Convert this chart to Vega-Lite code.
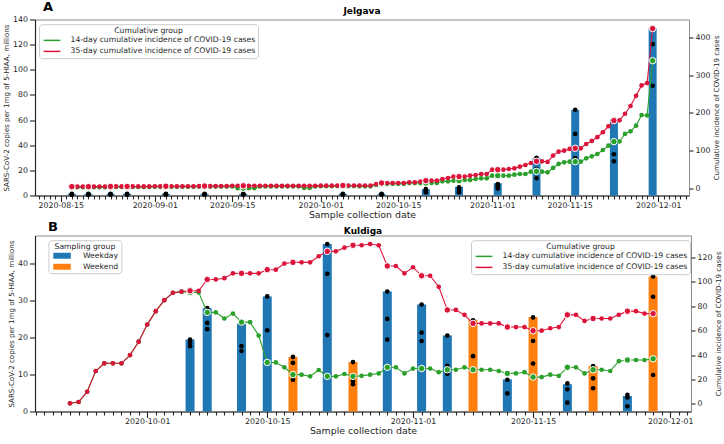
{
  "$schema": "https://vega.github.io/schema/vega-lite/v6.json",
  "padding": {"left": 2, "top": 0.5, "right": 2, "bottom": 2},
  "config": {
    "font": "DejaVu Sans",
    "view": {"stroke": "#8c8c8c", "strokeWidth": 1},
    "axis": {"grid": false, "labelFontSize": 7.8, "labelColor": "#262626", "titleFontSize": 9.4, "titleFontWeight": "normal", "titleColor": "#262626", "tickColor": "#262626", "domainColor": "#262626", "tickWidth": 1.1, "domainWidth": 1.2, "labelPadding": 2},
    "legend": {"fillColor": "rgba(255,255,255,0.85)", "strokeColor": "#cccccc", "cornerRadius": 3, "padding": 2.5, "titleFontSize": 7.7, "labelFontSize": 7.7, "titleFontWeight": "normal", "titleColor": "#262626", "labelColor": "#262626", "titleAnchor": "middle", "titlePadding": 1.5, "rowPadding": 2, "labelLimit": 0},
    "title": {"font": "DejaVu Sans", "color": "#000000"}
  },
  "datasets": {
    "barsA": [
      {"date": "2020-08-17", "value": 1.3}, {"date": "2020-08-20", "value": 1.3}, {"date": "2020-08-24", "value": 1.3}, {"date": "2020-08-27", "value": 1.3},
      {"date": "2020-09-03", "value": 1.3}, {"date": "2020-09-10", "value": 1.3}, {"date": "2020-09-17", "value": 1.3}, {"date": "2020-10-05", "value": 1.3},
      {"date": "2020-10-12", "value": 1.3}, {"date": "2020-10-20", "value": 5.0}, {"date": "2020-10-26", "value": 6.9}, {"date": "2020-11-02", "value": 9.8},
      {"date": "2020-11-09", "value": 29.5}, {"date": "2020-11-16", "value": 68.0}, {"date": "2020-11-23", "value": 60.7}, {"date": "2020-11-30", "value": 132.9}
    ],
    "dotsA": [
      {"date": "2020-08-17", "value": 1.3}, {"date": "2020-08-17", "value": 0.9}, {"date": "2020-08-17", "value": 0.6},
      {"date": "2020-08-20", "value": 1.3}, {"date": "2020-08-20", "value": 0.9}, {"date": "2020-08-20", "value": 0.6},
      {"date": "2020-08-24", "value": 1.3}, {"date": "2020-08-24", "value": 0.9}, {"date": "2020-08-24", "value": 0.6},
      {"date": "2020-08-27", "value": 1.3}, {"date": "2020-08-27", "value": 0.9}, {"date": "2020-08-27", "value": 0.6},
      {"date": "2020-09-03", "value": 1.3}, {"date": "2020-09-03", "value": 0.9}, {"date": "2020-09-03", "value": 0.6},
      {"date": "2020-09-10", "value": 1.3}, {"date": "2020-09-10", "value": 0.9}, {"date": "2020-09-10", "value": 0.6},
      {"date": "2020-09-17", "value": 1.3}, {"date": "2020-09-17", "value": 0.9}, {"date": "2020-09-17", "value": 0.6},
      {"date": "2020-10-05", "value": 1.3}, {"date": "2020-10-05", "value": 0.9}, {"date": "2020-10-05", "value": 0.6},
      {"date": "2020-10-12", "value": 1.3}, {"date": "2020-10-12", "value": 0.9}, {"date": "2020-10-12", "value": 0.6},
      {"date": "2020-10-20", "value": 5.0}, {"date": "2020-10-20", "value": 3.7}, {"date": "2020-10-20", "value": 2.5},
      {"date": "2020-10-26", "value": 6.4}, {"date": "2020-10-26", "value": 4.6}, {"date": "2020-10-26", "value": 2.5},
      {"date": "2020-11-02", "value": 9.0}, {"date": "2020-11-02", "value": 7.2}, {"date": "2020-11-02", "value": 5.5},
      {"date": "2020-11-09", "value": 30.0}, {"date": "2020-11-09", "value": 21.0}, {"date": "2020-11-09", "value": 13.7},
      {"date": "2020-11-16", "value": 68.2}, {"date": "2020-11-16", "value": 49.0}, {"date": "2020-11-16", "value": 29.7},
      {"date": "2020-11-23", "value": 60.5}, {"date": "2020-11-23", "value": 32.8}, {"date": "2020-11-23", "value": 27.2},
      {"date": "2020-11-30", "value": 133.0}, {"date": "2020-11-30", "value": 120.4}, {"date": "2020-11-30", "value": 87.3}
    ],
    "linesA": [
      {"date": "2020-08-17", "14-day": 3, "35-day": 4.5}, {"date": "2020-08-18", "14-day": 3, "35-day": 4.5}, {"date": "2020-08-19", "14-day": 3, "35-day": 4.5},
      {"date": "2020-08-20", "14-day": 3, "35-day": 4.5}, {"date": "2020-08-21", "14-day": 3, "35-day": 4.5}, {"date": "2020-08-22", "14-day": 3, "35-day": 4.5},
      {"date": "2020-08-23", "14-day": 3, "35-day": 4.5}, {"date": "2020-08-24", "14-day": 3.5, "35-day": 5}, {"date": "2020-08-25", "14-day": 3.5, "35-day": 5},
      {"date": "2020-08-26", "14-day": 3.5, "35-day": 5}, {"date": "2020-08-27", "14-day": 3.5, "35-day": 5}, {"date": "2020-08-28", "14-day": 3.5, "35-day": 5},
      {"date": "2020-08-29", "14-day": 3.5, "35-day": 5}, {"date": "2020-08-30", "14-day": 3.5, "35-day": 5}, {"date": "2020-08-31", "14-day": 3.5, "35-day": 5},
      {"date": "2020-09-01", "14-day": 4, "35-day": 5.5}, {"date": "2020-09-02", "14-day": 4, "35-day": 5.5}, {"date": "2020-09-03", "14-day": 4, "35-day": 5.5},
      {"date": "2020-09-04", "14-day": 4, "35-day": 5.5}, {"date": "2020-09-05", "14-day": 4, "35-day": 5.5}, {"date": "2020-09-06", "14-day": 4, "35-day": 5.5},
      {"date": "2020-09-07", "14-day": 4, "35-day": 5.5}, {"date": "2020-09-08", "14-day": 4, "35-day": 5.5}, {"date": "2020-09-09", "14-day": 4.5, "35-day": 6},
      {"date": "2020-09-10", "14-day": 4.5, "35-day": 6}, {"date": "2020-09-11", "14-day": 4.5, "35-day": 6}, {"date": "2020-09-12", "14-day": 4.5, "35-day": 6},
      {"date": "2020-09-13", "14-day": 4.5, "35-day": 6}, {"date": "2020-09-14", "14-day": 4.5, "35-day": 6}, {"date": "2020-09-15", "14-day": 5, "35-day": 6.8},
      {"date": "2020-09-16", "14-day": 0.5, "35-day": 6.8}, {"date": "2020-09-17", "14-day": 0.5, "35-day": 6.8}, {"date": "2020-09-18", "14-day": 0.5, "35-day": 6.8},
      {"date": "2020-09-19", "14-day": 0.5, "35-day": 6.8}, {"date": "2020-09-20", "14-day": 5, "35-day": 6.8}, {"date": "2020-09-21", "14-day": 5, "35-day": 6.8},
      {"date": "2020-09-22", "14-day": 5, "35-day": 6.8}, {"date": "2020-09-23", "14-day": 5, "35-day": 6.5}, {"date": "2020-09-24", "14-day": 5, "35-day": 6.5},
      {"date": "2020-09-25", "14-day": 5, "35-day": 6.5}, {"date": "2020-09-26", "14-day": 5, "35-day": 6.5}, {"date": "2020-09-27", "14-day": 5, "35-day": 6.5},
      {"date": "2020-09-28", "14-day": 1, "35-day": 6.5}, {"date": "2020-09-29", "14-day": 1, "35-day": 6.5}, {"date": "2020-09-30", "14-day": 5, "35-day": 6.5},
      {"date": "2020-10-01", "14-day": 5.5, "35-day": 7}, {"date": "2020-10-02", "14-day": 5.5, "35-day": 7}, {"date": "2020-10-03", "14-day": 5.5, "35-day": 7},
      {"date": "2020-10-04", "14-day": 6, "35-day": 7.5}, {"date": "2020-10-05", "14-day": 6, "35-day": 7.5}, {"date": "2020-10-06", "14-day": 6, "35-day": 7.5},
      {"date": "2020-10-07", "14-day": 6, "35-day": 7.5}, {"date": "2020-10-08", "14-day": 5.3, "35-day": 7.5}, {"date": "2020-10-09", "14-day": 5.3, "35-day": 7.5},
      {"date": "2020-10-10", "14-day": 5.3, "35-day": 7.5}, {"date": "2020-10-11", "14-day": 9, "35-day": 11.5}, {"date": "2020-10-12", "14-day": 12, "35-day": 14.1},
      {"date": "2020-10-13", "14-day": 12, "35-day": 14.1}, {"date": "2020-10-14", "14-day": 12, "35-day": 14.1}, {"date": "2020-10-15", "14-day": 12, "35-day": 14.1},
      {"date": "2020-10-16", "14-day": 12, "35-day": 14.1}, {"date": "2020-10-17", "14-day": 14, "35-day": 15.9}, {"date": "2020-10-18", "14-day": 14, "35-day": 15.9},
      {"date": "2020-10-19", "14-day": 14, "35-day": 17.7}, {"date": "2020-10-20", "14-day": 14.1, "35-day": 20.3}, {"date": "2020-10-21", "14-day": 14.1, "35-day": 20.3},
      {"date": "2020-10-22", "14-day": 14.1, "35-day": 20.3}, {"date": "2020-10-23", "14-day": 18.5, "35-day": 24.7}, {"date": "2020-10-24", "14-day": 18.5, "35-day": 27.4},
      {"date": "2020-10-25", "14-day": 20.3, "35-day": 31}, {"date": "2020-10-26", "14-day": 20.3, "35-day": 31}, {"date": "2020-10-27", "14-day": 22.1, "35-day": 31},
      {"date": "2020-10-28", "14-day": 22.1, "35-day": 33.6}, {"date": "2020-10-29", "14-day": 24.7, "35-day": 35.3}, {"date": "2020-10-30", "14-day": 26.5, "35-day": 38},
      {"date": "2020-10-31", "14-day": 26.5, "35-day": 38}, {"date": "2020-11-01", "14-day": 33.6, "35-day": 49.4}, {"date": "2020-11-02", "14-day": 33.6, "35-day": 49.4},
      {"date": "2020-11-03", "14-day": 33.6, "35-day": 49.4}, {"date": "2020-11-04", "14-day": 33.6, "35-day": 51.2}, {"date": "2020-11-05", "14-day": 36.2, "35-day": 53},
      {"date": "2020-11-06", "14-day": 38, "35-day": 57.4}, {"date": "2020-11-07", "14-day": 38, "35-day": 61.8}, {"date": "2020-11-08", "14-day": 44.1, "35-day": 67},
      {"date": "2020-11-09", "14-day": 45, "35-day": 71.5}, {"date": "2020-11-10", "14-day": 44.1, "35-day": 71.5}, {"date": "2020-11-11", "14-day": 42.4, "35-day": 70},
      {"date": "2020-11-12", "14-day": 53.9, "35-day": 86.6}, {"date": "2020-11-13", "14-day": 64.5, "35-day": 97.1}, {"date": "2020-11-14", "14-day": 68.9, "35-day": 99.8},
      {"date": "2020-11-15", "14-day": 70.6, "35-day": 104.2}, {"date": "2020-11-16", "14-day": 70.6, "35-day": 106}, {"date": "2020-11-17", "14-day": 70.6, "35-day": 106},
      {"date": "2020-11-18", "14-day": 79.5, "35-day": 117.4}, {"date": "2020-11-19", "14-day": 84.8, "35-day": 125.4}, {"date": "2020-11-20", "14-day": 90.9, "35-day": 135.5},
      {"date": "2020-11-21", "14-day": 101.5, "35-day": 148.5}, {"date": "2020-11-22", "14-day": 113, "35-day": 164.3}, {"date": "2020-11-23", "14-day": 123.6, "35-day": 179.3},
      {"date": "2020-11-24", "14-day": 124, "35-day": 180}, {"date": "2020-11-25", "14-day": 144, "35-day": 197.5}, {"date": "2020-11-26", "14-day": 151, "35-day": 218},
      {"date": "2020-11-27", "14-day": 166, "35-day": 245}, {"date": "2020-11-28", "14-day": 194, "35-day": 272.5}, {"date": "2020-11-29", "14-day": 193, "35-day": 278.7},
      {"date": "2020-11-30", "14-day": 338, "35-day": 423}
    ],
    "barsB": [
      {"date": "2020-10-06", "group": "Weekday", "value": 19.5}, {"date": "2020-10-08", "group": "Weekday", "value": 28.0},
      {"date": "2020-10-12", "group": "Weekday", "value": 23.8}, {"date": "2020-10-15", "group": "Weekday", "value": 31.2},
      {"date": "2020-10-18", "group": "Weekend", "value": 14.8}, {"date": "2020-10-22", "group": "Weekday", "value": 45.4},
      {"date": "2020-10-25", "group": "Weekend", "value": 13.4}, {"date": "2020-10-29", "group": "Weekday", "value": 32.5},
      {"date": "2020-11-02", "group": "Weekday", "value": 29.0}, {"date": "2020-11-05", "group": "Weekday", "value": 20.6},
      {"date": "2020-11-08", "group": "Weekend", "value": 24.9}, {"date": "2020-11-12", "group": "Weekday", "value": 8.7},
      {"date": "2020-11-15", "group": "Weekend", "value": 25.6}, {"date": "2020-11-19", "group": "Weekday", "value": 7.4},
      {"date": "2020-11-22", "group": "Weekend", "value": 12.3}, {"date": "2020-11-26", "group": "Weekday", "value": 4.2},
      {"date": "2020-11-29", "group": "Weekend", "value": 36.6}
    ],
    "dotsB": [
      {"date": "2020-10-06", "value": 19.5}, {"date": "2020-10-06", "value": 18.6}, {"date": "2020-10-06", "value": 17.7},
      {"date": "2020-10-08", "value": 28.0}, {"date": "2020-10-08", "value": 24.0}, {"date": "2020-10-08", "value": 22.3},
      {"date": "2020-10-12", "value": 23.8}, {"date": "2020-10-12", "value": 17.7}, {"date": "2020-10-12", "value": 16.4},
      {"date": "2020-10-15", "value": 31.2}, {"date": "2020-10-15", "value": 22.0},
      {"date": "2020-10-18", "value": 14.8}, {"date": "2020-10-18", "value": 13.2}, {"date": "2020-10-18", "value": 8.6},
      {"date": "2020-10-22", "value": 45.4}, {"date": "2020-10-22", "value": 37.3}, {"date": "2020-10-22", "value": 20.7},
      {"date": "2020-10-25", "value": 13.4}, {"date": "2020-10-25", "value": 8.3}, {"date": "2020-10-25", "value": 7.4},
      {"date": "2020-10-29", "value": 32.5}, {"date": "2020-10-29", "value": 25.1}, {"date": "2020-10-29", "value": 19.5},
      {"date": "2020-11-02", "value": 29.0}, {"date": "2020-11-02", "value": 21.4}, {"date": "2020-11-02", "value": 19.1},
      {"date": "2020-11-05", "value": 20.6}, {"date": "2020-11-05", "value": 12.4}, {"date": "2020-11-05", "value": 10.2},
      {"date": "2020-11-08", "value": 24.7}, {"date": "2020-11-08", "value": 15.0},
      {"date": "2020-11-12", "value": 8.6}, {"date": "2020-11-12", "value": 4.9},
      {"date": "2020-11-15", "value": 25.5}, {"date": "2020-11-15", "value": 19.1}, {"date": "2020-11-15", "value": 13.0},
      {"date": "2020-11-19", "value": 7.6}, {"date": "2020-11-19", "value": 6.0}, {"date": "2020-11-19", "value": 2.4},
      {"date": "2020-11-22", "value": 12.3}, {"date": "2020-11-22", "value": 9.0}, {"date": "2020-11-22", "value": 6.3},
      {"date": "2020-11-26", "value": 4.5}, {"date": "2020-11-26", "value": 3.8}, {"date": "2020-11-26", "value": 1.4},
      {"date": "2020-11-29", "value": 36.6}, {"date": "2020-11-29", "value": 31.1}, {"date": "2020-11-29", "value": 9.9}
    ],
    "linesB": [
      {"date": "2020-09-22", "14-day": 0.5, "35-day": 0.5}, {"date": "2020-09-23", "14-day": 1.6, "35-day": 1.6}, {"date": "2020-09-24", "14-day": 10, "35-day": 10},
      {"date": "2020-09-25", "14-day": 27, "35-day": 27}, {"date": "2020-09-26", "14-day": 33.3, "35-day": 33.3}, {"date": "2020-09-27", "14-day": 33.3, "35-day": 33.3},
      {"date": "2020-09-28", "14-day": 33.3, "35-day": 33.3}, {"date": "2020-09-29", "14-day": 40, "35-day": 40}, {"date": "2020-09-30", "14-day": 51, "35-day": 51},
      {"date": "2020-10-01", "14-day": 65, "35-day": 65}, {"date": "2020-10-02", "14-day": 76, "35-day": 76}, {"date": "2020-10-03", "14-day": 85, "35-day": 85},
      {"date": "2020-10-04", "14-day": 91, "35-day": 91}, {"date": "2020-10-05", "14-day": 92, "35-day": 92}, {"date": "2020-10-06", "14-day": 91.4, "35-day": 92.7},
      {"date": "2020-10-07", "14-day": 91.4, "35-day": 92.7}, {"date": "2020-10-08", "14-day": 75, "35-day": 102}, {"date": "2020-10-09", "14-day": 75, "35-day": 102},
      {"date": "2020-10-10", "14-day": 70, "35-day": 103}, {"date": "2020-10-11", "14-day": 74, "35-day": 107}, {"date": "2020-10-12", "14-day": 67, "35-day": 107},
      {"date": "2020-10-13", "14-day": 67, "35-day": 107}, {"date": "2020-10-14", "14-day": 56, "35-day": 107}, {"date": "2020-10-15", "14-day": 34, "35-day": 110},
      {"date": "2020-10-16", "14-day": 34, "35-day": 110}, {"date": "2020-10-17", "14-day": 30, "35-day": 115}, {"date": "2020-10-18", "14-day": 24, "35-day": 116},
      {"date": "2020-10-19", "14-day": 24, "35-day": 116}, {"date": "2020-10-20", "14-day": 22.6, "35-day": 116}, {"date": "2020-10-21", "14-day": 27.8, "35-day": 121},
      {"date": "2020-10-22", "14-day": 22.6, "35-day": 125}, {"date": "2020-10-23", "14-day": 22.6, "35-day": 125}, {"date": "2020-10-24", "14-day": 24.5, "35-day": 128},
      {"date": "2020-10-25", "14-day": 22.6, "35-day": 130}, {"date": "2020-10-26", "14-day": 23, "35-day": 130}, {"date": "2020-10-27", "14-day": 24, "35-day": 131},
      {"date": "2020-10-28", "14-day": 25, "35-day": 130}, {"date": "2020-10-29", "14-day": 30, "35-day": 113}, {"date": "2020-10-30", "14-day": 30, "35-day": 113},
      {"date": "2020-10-31", "14-day": 25, "35-day": 107}, {"date": "2020-11-01", "14-day": 29, "35-day": 112}, {"date": "2020-11-02", "14-day": 29, "35-day": 105},
      {"date": "2020-11-03", "14-day": 29, "35-day": 105}, {"date": "2020-11-04", "14-day": 26, "35-day": 96}, {"date": "2020-11-05", "14-day": 28, "35-day": 77},
      {"date": "2020-11-06", "14-day": 28, "35-day": 77}, {"date": "2020-11-07", "14-day": 30, "35-day": 73}, {"date": "2020-11-08", "14-day": 28, "35-day": 66},
      {"date": "2020-11-09", "14-day": 28, "35-day": 66}, {"date": "2020-11-10", "14-day": 28, "35-day": 66}, {"date": "2020-11-11", "14-day": 27, "35-day": 66},
      {"date": "2020-11-12", "14-day": 25, "35-day": 63}, {"date": "2020-11-13", "14-day": 25, "35-day": 63}, {"date": "2020-11-14", "14-day": 26, "35-day": 63},
      {"date": "2020-11-15", "14-day": 22, "35-day": 60}, {"date": "2020-11-16", "14-day": 22, "35-day": 60}, {"date": "2020-11-17", "14-day": 24, "35-day": 62},
      {"date": "2020-11-18", "14-day": 23, "35-day": 63}, {"date": "2020-11-19", "14-day": 30, "35-day": 73}, {"date": "2020-11-20", "14-day": 30, "35-day": 73},
      {"date": "2020-11-21", "14-day": 25, "35-day": 68}, {"date": "2020-11-22", "14-day": 28, "35-day": 70}, {"date": "2020-11-23", "14-day": 28, "35-day": 70},
      {"date": "2020-11-24", "14-day": 27, "35-day": 70}, {"date": "2020-11-25", "14-day": 35, "35-day": 73}, {"date": "2020-11-26", "14-day": 36, "35-day": 76},
      {"date": "2020-11-27", "14-day": 36, "35-day": 76}, {"date": "2020-11-28", "14-day": 36, "35-day": 74}, {"date": "2020-11-29", "14-day": 37, "35-day": 74}
    ]
  },
  "vconcat": [
    {
      "title": {"text": "A", "anchor": "start", "fontSize": 13, "fontWeight": "bold", "offset": -7.5, "dx": 41},
      "vconcat": [
        {
          "width": 654,
          "height": 176,
          "title": {"text": "Jelgava", "fontSize": 9, "fontWeight": "bold", "offset": 0},
          "encoding": {
            "x": {
              "field": "date", "type": "temporal",
              "scale": {"type": "utc", "nice": false, "domain": [{"year": 2020, "month": 8, "date": 11, "hours": 6, "utc": true}, {"year": 2020, "month": 12, "date": 5, "hours": 16, "utc": true}]},
              "axis": {
                "title": "Sample collection date",
                "tickCount": {"interval": "day", "step": 1},
                "labelExpr": "(utcdate(datum.value) == 1 || utcdate(datum.value) == 15) ? utcFormat(datum.value, '%Y-%m-%d') : ''",
                "tickSize": {"condition": {"test": "utcdate(datum.value) == 1 || utcdate(datum.value) == 15", "value": 6}, "value": 3.5},
                "labelOverlap": false, "labelFlush": false, "labelBound": false, "labelPadding": 0, "titlePadding": 1.5
              }
            }
          },
          "layer": [
            {
              "encoding": {
                "y": {"field": "value", "type": "quantitative", "scale": {"domain": [0, 140], "nice": false},
                  "axis": {"title": "SARS-CoV-2 copies per 1mg of 5-HIAA, millions", "values": [0, 20, 40, 60, 80, 100, 120, 140], "tickSize": 5.5, "labelPadding": 2, "titleFontSize": 7.1, "titlePadding": 3}}
              },
              "layer": [
                {"data": {"name": "barsA"}, "mark": {"type": "bar", "width": 8, "color": "#1f77b4"}},
                {"data": {"name": "dotsA"}, "mark": {"type": "circle", "size": 22, "color": "#000000", "opacity": 1}}
              ]
            },
            {
              "data": {"name": "linesA"},
              "transform": [{"fold": ["14-day", "35-day"], "as": ["series", "v"]}],
              "encoding": {
                "y": {"field": "v", "type": "quantitative", "scale": {"domain": [-19, 447], "nice": false, "zero": false},
                  "axis": {"orient": "right", "title": "Cumulative incidence of COVID-19 cases", "values": [0, 100, 200, 300, 400], "tickSize": 4, "labelPadding": 2, "domain": false, "titleFontSize": 7.1, "titlePadding": 3, "titleAngle": 270, "titleBaseline": "top"}}
              },
              "layer": [
                {
                  "mark": {"type": "line", "strokeWidth": 1.1, "point": {"filled": true, "size": 22}},
                  "encoding": {
                    "color": {"field": "series", "type": "nominal", "scale": {"domain": ["14-day", "35-day"], "range": ["#2ca02c", "#dc143c"]},
                      "legend": {"title": "Cumulative group", "orient": "none", "legendX": 4, "legendY": 4.7, "labelExpr": "datum.label + ' cumulative incidence of COVID-19 cases'", "symbolType": "M-2.4,0L2.4,0", "symbolSize": 49, "symbolStrokeWidth": 1.5, "symbolOffset": 6, "labelOffset": 14}}
                  }
                },
                {
                  "transform": [{"filter": "indexof(['2020-08-17','2020-08-20','2020-08-24','2020-08-27','2020-09-03','2020-09-10','2020-09-17','2020-10-05','2020-10-12','2020-10-20','2020-10-26','2020-11-02','2020-11-09','2020-11-16','2020-11-23','2020-11-30'], utcFormat(toDate(datum.date), '%Y-%m-%d')) >= 0"}],
                  "mark": {"type": "circle", "size": 42, "stroke": "#ffffff", "strokeWidth": 1, "opacity": 1},
                  "encoding": {"color": {"field": "series", "type": "nominal", "legend": null}}
                }
              ]
            }
          ],
          "resolve": {"scale": {"y": "independent"}}
        }
      ]
    },
    {
      "title": {"text": "B", "anchor": "start", "fontSize": 13, "fontWeight": "bold", "offset": -7.5, "dx": 41},
      "vconcat": [
        {
          "width": 656,
          "height": 176,
          "title": {"text": "Kuldiga", "fontSize": 9, "fontWeight": "bold", "offset": 0},
          "encoding": {
            "x": {
              "field": "date", "type": "temporal",
              "scale": {"type": "utc", "nice": false, "domain": [{"year": 2020, "month": 9, "date": 18, "hours": 12, "utc": true}, {"year": 2020, "month": 12, "date": 2, "hours": 20, "utc": true}]},
              "axis": {
                "title": "Sample collection date",
                "tickCount": {"interval": "day", "step": 1},
                "labelExpr": "(utcdate(datum.value) == 1 || utcdate(datum.value) == 15) ? utcFormat(datum.value, '%Y-%m-%d') : ''",
                "tickSize": {"condition": {"test": "utcdate(datum.value) == 1 || utcdate(datum.value) == 15", "value": 6}, "value": 3.5},
                "labelOverlap": false, "labelFlush": false, "labelBound": false, "labelPadding": 0, "titlePadding": 1.5
              }
            }
          },
          "layer": [
            {
              "encoding": {
                "y": {"field": "value", "type": "quantitative", "scale": {"domain": [0, 47.7], "nice": false},
                  "axis": {"title": "SARS-CoV-2 copies per 1mg of 5-HIAA, millions", "values": [0, 10, 20, 30, 40], "tickSize": 5.5, "labelPadding": 2, "titleFontSize": 7.1, "titlePadding": 3}}
              },
              "layer": [
                {
                  "data": {"name": "barsB"},
                  "mark": {"type": "bar", "width": 9},
                  "encoding": {
                    "color": {"field": "group", "type": "nominal", "scale": {"domain": ["Weekday", "Weekend"], "range": ["#1f77b4", "#ff7f0e"]},
                      "legend": {"title": "Sampling group", "orient": "none", "legendX": 13.4, "legendY": 4.7, "symbolType": "M-2.5,-0.85L2.5,-0.85L2.5,0.85L-2.5,0.85Z", "symbolSize": 49, "symbolStrokeWidth": 0, "symbolOffset": 7.3, "labelOffset": 17}}
                  }
                },
                {"data": {"name": "dotsB"}, "mark": {"type": "circle", "size": 22, "color": "#000000", "opacity": 1}}
              ]
            },
            {
              "data": {"name": "linesB"},
              "transform": [{"fold": ["14-day", "35-day"], "as": ["series", "v"]}],
              "encoding": {
                "y": {"field": "v", "type": "quantitative", "scale": {"domain": [-6.2, 138], "nice": false, "zero": false},
                  "axis": {"orient": "right", "title": "Cumulative incidence of COVID-19 cases", "values": [0, 20, 40, 60, 80, 100, 120], "tickSize": 4, "labelPadding": 2, "domain": false, "titleFontSize": 7.1, "titlePadding": 3, "titleAngle": 270, "titleBaseline": "top"}}
              },
              "layer": [
                {
                  "mark": {"type": "line", "strokeWidth": 1.1, "point": {"filled": true, "size": 22}},
                  "encoding": {
                    "color": {"field": "series", "type": "nominal", "scale": {"domain": ["14-day", "35-day"], "range": ["#2ca02c", "#dc143c"]},
                      "legend": {"title": "Cumulative group", "orient": "none", "legendX": 436, "legendY": 4.7, "labelExpr": "datum.label + ' cumulative incidence of COVID-19 cases'", "symbolType": "M-2.4,0L2.4,0", "symbolSize": 49, "symbolStrokeWidth": 1.5, "symbolOffset": 6, "labelOffset": 14}}
                  }
                },
                {
                  "transform": [{"filter": "indexof(['2020-10-06','2020-10-08','2020-10-12','2020-10-15','2020-10-18','2020-10-22','2020-10-25','2020-10-29','2020-11-02','2020-11-05','2020-11-08','2020-11-12','2020-11-15','2020-11-19','2020-11-22','2020-11-26','2020-11-29'], utcFormat(toDate(datum.date), '%Y-%m-%d')) >= 0"}],
                  "mark": {"type": "circle", "size": 42, "stroke": "#ffffff", "strokeWidth": 1, "opacity": 1},
                  "encoding": {"color": {"field": "series", "type": "nominal", "legend": null}}
                }
              ]
            }
          ],
          "resolve": {"scale": {"y": "independent", "color": "independent"}}
        }
      ]
    }
  ],
  "spacing": 0
}
